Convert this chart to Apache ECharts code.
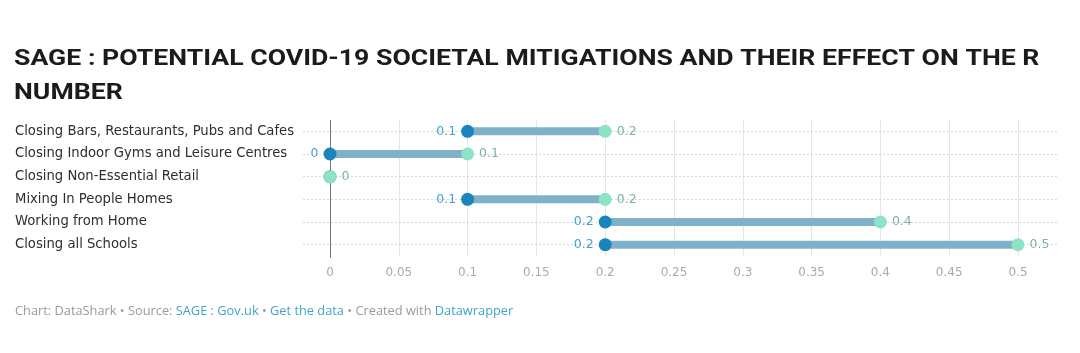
<!DOCTYPE html>
<html>
<head>
<meta charset="utf-8">
<script src="https://cdn.jsdelivr.net/npm/echarts@6/dist/echarts.min.js"></script>
<style>
  html, body { margin: 0; padding: 0; background: #fff; }
  #chart { width: 1080px; height: 353px; }
</style>
</head>
<body>
<div id="chart"></div>
<script>
// 数据
var categories = [
  'Closing Bars, Restaurants, Pubs and Cafes',
  'Closing Indoor Gyms and Leisure Centres',
  'Closing Non-Essential Retail',
  'Mixing In People Homes',
  'Working from Home',
  'Closing all Schools'
];
var lowValues = [0.1, 0, 0, 0.1, 0.2, 0.2];
var highValues = [0.2, 0.1, 0, 0.2, 0.4, 0.5];

var titleText = 'SAGE : POTENTIAL COVID-19 SOCIETAL MITIGATIONS AND THEIR EFFECT ON THE R\nNUMBER';
var footFont = '"Open Sans", Roboto, sans-serif';
var labelFont = '"DejaVu Sans", "Noto Sans", sans-serif';
var chart = echarts.init(document.getElementById('chart'), null, {renderer: 'canvas'});

var gridTop = 120, gridBottom = 97;

var option = {
  backgroundColor: '#fff',
  animation: false,
  graphic: [
    {
      // 标题（原图横向略拉伸）
      type: 'text', x: 14, y: 42, scaleX: 1.185, scaleY: 1,
      style: {
        text: titleText,
        fontFamily: 'Roboto, sans-serif',
        fontWeight: 'bold',
        fontSize: 22.5,
        lineHeight: 34,
        fill: '#1b1b1b',
        verticalAlign: 'top'
      }
    },
    {
      type: 'text',
      left: 15,
      top: 305,
      style: {
        text: '{g|Chart: DataShark • Source: }{b|SAGE : Gov.uk}{g| • }{b|Get the data}{g| • Created with }{b|Datawrapper}',
        rich: {
          g: {fontFamily: footFont, fontSize: 12.8, fill: '#9a9a9a'},
          b: {fontFamily: footFont, fontSize: 12.8, fill: '#3fa5c9'}
        }
      }
    }
  ],
  grid: [
    // 行标签 + 行虚线
    {left: 303, right: 22, top: gridTop, bottom: gridBottom},
    // 数据区
    {left: 330, right: 62, top: gridTop, bottom: gridBottom}
  ],
  xAxis: [
    {gridIndex: 0, type: 'value', min: 0, max: 1, show: false},
    {
      gridIndex: 1, type: 'value', min: 0, max: 0.5, interval: 0.05,
      axisLine: {show: false},
      axisTick: {show: false},
      axisLabel: {
        color: '#aaa', fontFamily: labelFont, fontSize: 12, margin: 11,
        formatter: function (v) { return String(+v.toFixed(2)); }
      },
      splitLine: {show: true, lineStyle: {color: '#e6e6e6', width: 1}}
    }
  ],
  yAxis: [
    {
      gridIndex: 0, type: 'category', data: categories, inverse: true,
      axisLine: {show: false}, axisTick: {show: false},
      splitLine: {show: false},
      axisLabel: {
        align: 'left', margin: 288,
        color: '#2e2e2e', fontFamily: labelFont, fontSize: 13.2
      }
    },
    {
      gridIndex: 1, type: 'category', data: categories, inverse: true,
      axisLine: {show: false}, axisTick: {show: false},
      axisLabel: {show: false}, splitLine: {show: false}
    }
  ],
  series: [
    {
      // 行虚线
      type: 'line', xAxisIndex: 0, yAxisIndex: 0, data: [],
      silent: true, z: 0,
      markLine: {
        symbol: 'none', silent: true, label: {show: false}, z: 0,
        lineStyle: {color: '#d8d8d8', type: [2, 2], width: 1},
        data: categories.map(function (c) { return {yAxis: c}; })
      }
    },
    {
      // 0 轴线
      type: 'line', xAxisIndex: 1, yAxisIndex: 1, data: [],
      silent: true, z: 1,
      markLine: {
        symbol: 'none', silent: true, label: {show: false}, z: 1,
        lineStyle: {color: '#777', type: 'solid', width: 1},
        data: [[{xAxis: 0, y: gridTop}, {xAxis: 0, y: 353 - gridBottom + 2}]]
      }
    },
    {
      type: 'bar', xAxisIndex: 1, yAxisIndex: 1, stack: 'r',
      data: lowValues, barWidth: 8, z: 5,
      itemStyle: {color: 'transparent'}, silent: true
    },
    {
      type: 'bar', xAxisIndex: 1, yAxisIndex: 1, stack: 'r',
      data: highValues.map(function (h, i) { return +(h - lowValues[i]).toFixed(3); }),
      barWidth: 8, z: 5,
      itemStyle: {color: '#7fb2c9'}
    },
    {
      type: 'scatter', xAxisIndex: 1, yAxisIndex: 1,
      symbolSize: 13,
      data: lowValues.map(function (v, i) { return [v, categories[i]]; }),
      itemStyle: {color: '#1a85bd', opacity: 1},
      label: {
        show: true, position: 'left', distance: 5,
        color: '#3fa5c9', fontFamily: labelFont, fontSize: 12.5,
        formatter: function (p) {
          var i = p.dataIndex;
          return lowValues[i] === highValues[i] ? '' : String(lowValues[i]);
        }
      },
      z: 6
    },
    {
      type: 'scatter', xAxisIndex: 1, yAxisIndex: 1,
      symbolSize: 13,
      data: highValues.map(function (v, i) { return [v, categories[i]]; }),
      itemStyle: {color: '#8de3c5', opacity: 1},
      label: {
        show: true, position: 'right', distance: 5,
        color: '#7fb0aa', fontFamily: labelFont, fontSize: 12.5,
        formatter: function (p) { return String(highValues[p.dataIndex]); }
      },
      z: 7
    }
  ]
};

chart.setOption(option);
</script>
</body>
</html>
